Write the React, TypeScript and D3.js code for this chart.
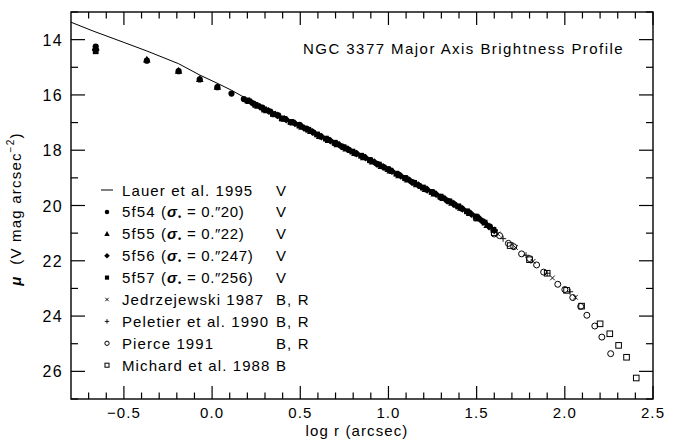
import React, { useRef, useEffect } from "react";
import * as d3 from "d3";

// log r (arcsec), mu (V mag arcsec^-2)
const lauer1995 = [
  [-0.8, 13.37], [-0.67, 13.7], [-0.5, 14.1], [-0.37, 14.41], [-0.19, 14.87],
  [-0.07, 15.28], [0.03, 15.58], [0.11, 15.83], [0.2, 16.15], [0.3, 16.5],
  [0.4, 16.85], [0.5, 17.1], [0.6, 17.44], [0.7, 17.75], [0.8, 18.06],
  [0.9, 18.37], [1.0, 18.69], [1.1, 19.02], [1.2, 19.36], [1.3, 19.69],
  [1.4, 20.04], [1.5, 20.41], [1.55, 20.62],
];

const f54 = [
  [-0.66, 14.25], [-0.37, 14.76], [-0.19, 15.14], [-0.07, 15.44], [0.03, 15.72],
  [0.11, 15.95], [0.18, 16.15], [0.235, 16.31], [0.285, 16.46], [0.33, 16.6],
  [0.375, 16.74], [0.415, 16.87], [0.455, 16.98], [0.495, 17.08], [0.535, 17.22],
  [0.575, 17.36], [0.615, 17.5], [0.655, 17.62], [0.695, 17.74], [0.735, 17.86],
  [0.775, 17.99], [0.815, 18.12], [0.855, 18.24], [0.895, 18.36], [0.935, 18.49],
  [0.975, 18.62], [1.015, 18.75], [1.055, 18.88], [1.095, 19.01], [1.135, 19.15],
  [1.175, 19.29], [1.215, 19.42], [1.255, 19.55], [1.295, 19.69], [1.335, 19.83],
  [1.375, 19.97], [1.415, 20.11], [1.455, 20.25], [1.495, 20.41], [1.535, 20.57],
  [1.575, 20.76],
];

const f55 = [
  [-0.66, 14.3], [-0.37, 14.72], [-0.19, 15.12], [-0.07, 15.42], [0.03, 15.7],
  [0.21, 16.22], [0.26, 16.39], [0.31, 16.55], [0.36, 16.7], [0.41, 16.86],
  [0.46, 17.0], [0.51, 17.15], [0.56, 17.3], [0.61, 17.48], [0.66, 17.63],
  [0.71, 17.78], [0.76, 17.94], [0.81, 18.1], [0.86, 18.25], [0.91, 18.41],
  [0.96, 18.57], [1.01, 18.73], [1.06, 18.9], [1.11, 19.06], [1.16, 19.23],
  [1.21, 19.4], [1.26, 19.56], [1.31, 19.73], [1.36, 19.9], [1.41, 20.08],
  [1.46, 20.27], [1.51, 20.46], [1.56, 20.7],
];

const f56 = [
  [-0.66, 14.35], [0.22, 16.25], [0.27, 16.42], [0.32, 16.58], [0.37, 16.74],
  [0.42, 16.89], [0.47, 17.03], [0.52, 17.19], [0.57, 17.34], [0.62, 17.51],
  [0.67, 17.65], [0.72, 17.8], [0.77, 17.96], [0.82, 18.12], [0.87, 18.27],
  [0.92, 18.43], [0.97, 18.6], [1.02, 18.76], [1.07, 18.93], [1.12, 19.09],
  [1.17, 19.26], [1.22, 19.43], [1.27, 19.59], [1.32, 19.76], [1.37, 19.93],
  [1.42, 20.12], [1.47, 20.31], [1.52, 20.5], [1.57, 20.76], [1.6, 20.9],
];

const f57 = [
  [-0.66, 14.42], [0.2, 16.2], [0.245, 16.36], [0.295, 16.53], [0.345, 16.69],
  [0.395, 16.85], [0.445, 16.98], [0.495, 17.11], [0.545, 17.26], [0.595, 17.43],
  [0.645, 17.58], [0.695, 17.73], [0.745, 17.89], [0.795, 18.05], [0.845, 18.2],
  [0.895, 18.36], [0.945, 18.52], [0.995, 18.68], [1.045, 18.85], [1.095, 19.01],
  [1.145, 19.18], [1.195, 19.35], [1.245, 19.51], [1.295, 19.68], [1.345, 19.85],
  [1.395, 20.03], [1.445, 20.21], [1.495, 20.4], [1.545, 20.62], [1.595, 20.88],
];

const jedrzejewski = [
  [1.0, 18.7], [1.1, 19.03], [1.2, 19.37], [1.3, 19.7], [1.4, 20.05],
  [1.5, 20.42], [1.62, 21.03], [1.72, 21.52], [1.82, 22.02], [1.93, 22.62],
  [2.06, 23.32],
];

const peletier = [
  [0.9, 18.38], [1.05, 18.86], [1.2, 19.37], [1.35, 19.87], [1.5, 20.42],
  [1.65, 21.2], [1.78, 21.8], [1.9, 22.45], [2.03, 23.12],
];

const pierce = [
  [1.6, 21.03], [1.63, 21.09], [1.68, 21.37], [1.71, 21.49], [1.755, 21.75],
  [1.8, 21.92], [1.84, 22.15], [1.88, 22.41], [1.96, 22.85], [2.0, 23.04],
  [2.045, 23.33], [2.09, 23.65], [2.125, 23.97], [2.17, 24.36], [2.21, 24.76],
  [2.26, 25.36],
];

const michard = [
  [1.5, 20.45], [1.6, 20.98], [1.69, 21.45], [1.8, 21.96], [1.9, 22.45],
  [2.01, 23.07], [2.095, 23.64], [2.2, 24.28], [2.255, 24.64], [2.305, 25.06],
  [2.35, 25.49], [2.405, 26.24],
];

const xTicks = [-0.5, 0.0, 0.5, 1.0, 1.5, 2.0, 2.5];
const yTicks = [14, 16, 18, 20, 22, 24, 26];

const legendRows = [
  { sym: "line", name: "Lauer et al. 1995", sigma: "", band: "V" },
  { sym: "dot", name: "5f54", sigma: "20", band: "V" },
  { sym: "tri", name: "5f55", sigma: "22", band: "V" },
  { sym: "dia", name: "5f56", sigma: "247", band: "V" },
  { sym: "sq", name: "5f57", sigma: "256", band: "V" },
  { sym: "x", name: "Jedrzejewski 1987", sigma: "", band: "B, R" },
  { sym: "plus", name: "Peletier et al. 1990", sigma: "", band: "B, R" },
  { sym: "ocirc", name: "Pierce 1991", sigma: "", band: "B, R" },
  { sym: "osq", name: "Michard et al. 1988", sigma: "", band: "B" },
];

const FONT = "'Liberation Sans', Arial, sans-serif";

const drawSymbol = (g, kind, cx, cy, s) => {
  if (kind === "dot") {
    g.append("circle").attr("cx", cx).attr("cy", cy).attr("r", 3.1 * s).attr("fill", "#000");
  } else if (kind === "tri") {
    const h = 3.8 * s;
    g.append("path")
      .attr("d", `M${cx},${cy - h}L${cx + h},${cy + h * 0.8}L${cx - h},${cy + h * 0.8}Z`)
      .attr("fill", "#000");
  } else if (kind === "dia") {
    const h = 3.9 * s;
    g.append("path")
      .attr("d", `M${cx},${cy - h}L${cx + h},${cy}L${cx},${cy + h}L${cx - h},${cy}Z`)
      .attr("fill", "#000");
  } else if (kind === "sq") {
    const h = 2.9 * s;
    g.append("rect").attr("x", cx - h).attr("y", cy - h).attr("width", 2 * h).attr("height", 2 * h).attr("fill", "#000");
  } else if (kind === "x") {
    const h = 2.4 * s;
    g.append("path")
      .attr("d", `M${cx - h},${cy - h}L${cx + h},${cy + h}M${cx - h},${cy + h}L${cx + h},${cy - h}`)
      .attr("stroke", "#000").attr("stroke-width", 0.9).attr("fill", "none");
  } else if (kind === "plus") {
    const h = 3.1 * s;
    g.append("path")
      .attr("d", `M${cx - h},${cy}L${cx + h},${cy}M${cx},${cy - h}L${cx},${cy + h}`)
      .attr("stroke", "#000").attr("stroke-width", 0.9).attr("fill", "none");
  } else if (kind === "ocirc") {
    g.append("circle").attr("cx", cx).attr("cy", cy).attr("r", 3 * s)
      .attr("fill", "none").attr("stroke", "#000").attr("stroke-width", 1);
  } else if (kind === "osq") {
    const h = 2.8 * s;
    g.append("rect").attr("x", cx - h).attr("y", cy - h).attr("width", 2 * h).attr("height", 2 * h)
      .attr("fill", "none").attr("stroke", "#000").attr("stroke-width", 1);
  } else if (kind === "line") {
    g.append("line").attr("x1", cx - 6).attr("x2", cx + 6).attr("y1", cy).attr("y2", cy)
      .attr("stroke", "#000").attr("stroke-width", 1);
  }
};

const App = () => {
  const chartRef = useRef(null);

  useEffect(() => {
    const W = 683;
    const H = 446;
    const margin = { top: 12, right: 30, bottom: 47, left: 71 };
    const width = W - margin.left - margin.right;
    const height = H - margin.top - margin.bottom;

    const root = d3
      .select(chartRef.current)
      .append("svg")
      .attr("width", W)
      .attr("height", H)
      .style("position", "absolute")
      .style("left", "0px")
      .style("top", "0px")
      .style("background", "#fff");

    const svg = root.append("g").attr("transform", `translate(${margin.left},${margin.top})`);

    const x = d3.scaleLinear().domain([-0.8, 2.5]).range([0, width]);
    const y = d3.scaleLinear().domain([13, 27]).range([0, height]);

    const textStyle = (sel, size, ls = 1.1) =>
      sel.attr("font-family", FONT).attr("font-size", size).attr("letter-spacing", ls).attr("fill", "#000");

    // ticks (inward, all four sides)
    const xMinor = d3.range(-7, 26).map((i) => i / 10);
    const yMinor = d3.range(13, 28);
    const isMajorX = (v) => Math.abs(v * 2 - Math.round(v * 2)) < 1e-6;
    xMinor.forEach((v) => {
      const len = isMajorX(v) ? 13 : 6.5;
      svg.append("line").attr("x1", x(v)).attr("x2", x(v)).attr("y1", height).attr("y2", height - len)
        .attr("stroke", "#000").attr("stroke-width", 1.2);
      svg.append("line").attr("x1", x(v)).attr("x2", x(v)).attr("y1", 0).attr("y2", len)
        .attr("stroke", "#000").attr("stroke-width", 1.2);
    });
    yMinor.forEach((v) => {
      const len = v % 2 === 0 ? 14 : 7;
      svg.append("line").attr("x1", 0).attr("x2", len).attr("y1", y(v)).attr("y2", y(v))
        .attr("stroke", "#000").attr("stroke-width", 1.2);
      svg.append("line").attr("x1", width).attr("x2", width - len).attr("y1", y(v)).attr("y2", y(v))
        .attr("stroke", "#000").attr("stroke-width", 1.2);
    });

    svg.append("rect").attr("x", 0).attr("y", 0).attr("width", width).attr("height", height)
      .attr("fill", "none").attr("stroke", "#000").attr("stroke-width", 1.4);

    xTicks.forEach((v) => {
      textStyle(svg.append("text"), 15)
        .attr("x", x(v)).attr("y", height + 19).attr("text-anchor", "middle")
        .text(v < 0 ? `\u2212${Math.abs(v).toFixed(1)}` : v.toFixed(1));
    });
    yTicks.forEach((v) => {
      textStyle(svg.append("text"), 16, 1.3)
        .attr("x", -8).attr("y", y(v) + 6).attr("text-anchor", "end")
        .text(v);
    });

    // axis titles
    textStyle(svg.append("text"), 15)
      .attr("x", width / 2 - 5).attr("y", height + 37).attr("text-anchor", "middle")
      .text("log r (arcsec)");

    const yl = textStyle(root.append("text"), 15, 1.2)
      .attr("transform", "translate(21,209) rotate(-90)")
      .attr("text-anchor", "middle")
      .style("white-space", "pre");
    yl.append("tspan").attr("font-style", "italic").attr("font-weight", "bold").text("\u03bc");
    yl.append("tspan").text("  (V mag arcsec");
    yl.append("tspan").attr("font-size", 10).attr("dy", -7).text("\u22122");
    yl.append("tspan").attr("dy", 7).text(")");

    // title
    textStyle(svg.append("text"), 15, 1.45)
      .attr("x", 232).attr("y", 41.5)
      .text("NGC 3377 Major Axis Brightness Profile");

    // Lauer line
    const line = d3.line().x((d) => x(d[0])).y((d) => y(d[1]));
    svg.append("path").datum(lauer1995).attr("d", line)
      .attr("fill", "none").attr("stroke", "#000").attr("stroke-width", 1);

    const plot = svg.append("g");
    const series = [
      ["osq", michard], ["ocirc", pierce], ["plus", peletier], ["x", jedrzejewski],
      ["sq", f57], ["dia", f56], ["tri", f55], ["dot", f54],
    ];
    series.forEach(([kind, data]) => {
      data.forEach((d) => drawSymbol(plot, kind, x(d[0]), y(d[1]), 1));
    });

    // legend
    const lg = root.append("g");
    legendRows.forEach((row, i) => {
      const cy = 190 + i * 21.9;
      drawSymbol(lg, row.sym, 107, cy, 0.72);
      const t = textStyle(lg.append("text"), 15).attr("x", 122).attr("y", cy + 5.5).style("white-space", "pre");
      t.append("tspan").text(row.name);
      if (row.sigma) {
        t.append("tspan").text(" (");
        t.append("tspan").attr("font-style", "italic").attr("font-weight", "bold").text("\u03c3");
        t.append("tspan").attr("font-size", 9).attr("dy", 3).attr("font-weight", "bold").text("\u2022");
        t.append("tspan").attr("dy", -3).attr("letter-spacing", 0.6).text(" = 0.\u2033");
        t.append("tspan").attr("letter-spacing", 0.6).text(`${row.sigma})`);
      }
      textStyle(lg.append("text"), 15).attr("x", 276).attr("y", cy + 5.5).style("white-space", "pre").text(row.band);
    });

    return () => {
      if (chartRef.current) chartRef.current.innerHTML = "";
    };
  }, []);

  return <div ref={chartRef}></div>;
};

export default App;
